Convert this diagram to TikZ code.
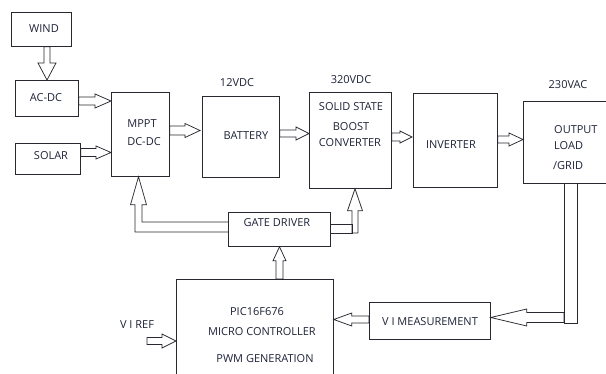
\documentclass[tikz,border=0pt]{standalone}
\usepackage{fontspec}
\setmainfont{Open Sans}
\usetikzlibrary{calc}
\definecolor{ink}{RGB}{40,40,48}
\definecolor{txtc}{RGB}{30,34,55}
\tikzset{
  box/.style={draw=ink, line width=0.75pt, anchor=north west, inner sep=0pt},
  ln/.style={draw=ink, line width=0.75pt, line join=miter},
  lbl/.style={text=txtc, font=\fontsize{11}{13}\selectfont, inner sep=0pt},
}
% block arrow: start, tip, shaft half width, head half width, head length
\newcommand\barrow[5]{%
  \path (#1) coordinate (ba-s) (#2) coordinate (ba-t);
  \path ($(ba-t)!#5pt!(ba-s)$) coordinate (ba-h);
  \draw[ln] ($(ba-s)!#3pt!90:(ba-t)$) -- ($(ba-h)!#3pt!90:(ba-t)$) -- ($(ba-h)!#4pt!90:(ba-t)$)
    -- (ba-t) -- ($(ba-h)!#4pt!-90:(ba-t)$) -- ($(ba-h)!#3pt!-90:(ba-t)$) -- ($(ba-s)!#3pt!-90:(ba-t)$) -- cycle;}
\begin{document}
\begin{tikzpicture}[x=1pt,y=-1pt]
\useasboundingbox (0,0) rectangle (606,374);
\clip (0,0) rectangle (606,374);
% boxes
\node[box, minimum width=60pt, minimum height=34pt] (wind) at (11,12) {};
\node[box, minimum width=63pt, minimum height=36pt] (acdc) at (15,80) {};
\node[box, minimum width=65pt, minimum height=31pt] (solar) at (15,143) {};
\node[box, minimum width=58pt, minimum height=84pt] (mppt) at (111,92) {};
\node[box, minimum width=77pt, minimum height=81pt] (batt) at (202,96) {};
\node[box, minimum width=82pt, minimum height=96pt] (ssbc) at (309,92) {};
\node[box, minimum width=84pt, minimum height=94pt] (inv) at (413,93) {};
\node[box, minimum width=90pt, minimum height=82pt] (out) at (523,101) {};
\node[box, minimum width=102pt, minimum height=34pt] (gd) at (228,212) {};
\node[box, minimum width=157pt, minimum height=110pt] (pic) at (176,279) {};
\node[box, minimum width=121pt, minimum height=37pt] (vim) at (369,302) {};
% texts
\node[lbl] (t-wind) at (44,29) {WIND};
\node[lbl] (t-acdc) at (46,98) {AC-DC};
\node[lbl] (t-solar) at (51,156) {SOLAR};
\node[lbl] (t-mppt1) at (142,124) {MPPT};
\node[lbl] (t-mppt2) at (144,142) {DC-DC};
\node[lbl] (t-batt) at (246,136) {BATTERY};
\node[lbl] (v12) at (237,83) {12VDC};
\node[lbl] (v320) at (351,80) {320VDC};
\node[lbl] (v230) at (568,85) {230VAC};
\node[lbl] (t-ss1) at (351,107) {SOLID STATE};
\node[lbl] (t-ss2) at (351,127) {BOOST};
\node[lbl] (t-ss3) at (350,143) {CONVERTER};
\node[lbl] (t-inv) at (451,145) {INVERTER};
\node[lbl, anchor=west] (t-out1) at (554,130) {OUTPUT};
\node[lbl, anchor=west] (t-out2) at (554,146) {LOAD};
\node[lbl, anchor=west] (t-out3) at (553,166) {/GRID};
\node[lbl] (t-gd) at (277,223) {GATE DRIVER};
\node[lbl] (t-pic1) at (257,312) {PIC16F676};
\node[lbl] (t-pic2) at (262,332) {MICRO CONTROLLER};
\node[lbl] (t-pic3) at (265,359) {PWM GENERATION};
\node[lbl] (t-vim) at (430,322) {V I MEASUREMENT};
\node[lbl] (t-vref) at (137,325) {V I REF};
% helper coordinates
\coordinate (xw) at (47,0);
\coordinate (y1) at (0,101);
\coordinate (y2) at (0,152.5);
\coordinate (y3) at (0,130.5);
\coordinate (y4) at (0,133.5);
\coordinate (y5) at (0,137);
\coordinate (y6) at (0,139.5);
\coordinate (xp) at (279.5,0);
\coordinate (y7) at (0,319.5);
\coordinate (y8) at (0,341);
\coordinate (vref) at (147,341);
% simple block arrows
\barrow{wind.south -| xw}{acdc.north -| xw}{3}{9}{17}
\barrow{acdc.east |- y1}{mppt.west |- y1}{4}{7}{16}
\barrow{solar.east |- y2}{mppt.west |- y2}{4}{6.5}{15}
\barrow{mppt.east |- y3}{$(batt.west |- y3)+(-2,0)$}{4.5}{7}{15}
\barrow{batt.east |- y4}{ssbc.west |- y4}{3.5}{6.5}{13}
\barrow{ssbc.east |- y5}{$(inv.west |- y5)+(-1,0)$}{4}{6}{12}
\barrow{inv.east |- y6}{out.west |- y6}{3.5}{6.5}{14}
\barrow{pic.north -| xp}{gd.south -| xp}{3.5}{6.5}{14}
\barrow{vim.west |- y7}{pic.east |- y7}{3.5}{6.5}{18}
\barrow{vref}{pic.west |- y8}{3.5}{7}{14}
% output -> V I measurement
\coordinate (sx1) at (564,0);
\coordinate (sx2) at (577,0);
\coordinate (sy) at (0,323);
\coordinate (y9) at (0,317.5);
\draw[ln] (out.south -| sx1) -- (sx1 |- sy) -- (sx2 |- sy) -- (out.south -| sx2);
\barrow{sx1 |- y9}{vim.east |- y9}{5}{8.5}{36}
% gate driver -> MPPT
\coordinate (xm) at (138.5,0);
\coordinate (gm) at (mppt.south -| xm);
\coordinate (ya) at (0,222);
\coordinate (yb) at (0,232);
\draw[ln] (gd.west |- ya) -- ($(gm |- ya)+(3.5,0)$) -- ($(gm)+(3.5,28)$) -- ($(gm)+(8,28)$) -- (gm)
  -- ($(gm)+(-8,28)$) -- ($(gm)+(-3.5,28)$) -- ($(gm |- yb)+(-3.5,0)$) -- (gd.west |- yb);
% gate driver -> boost converter
\coordinate (yc) at (0,224);
\coordinate (yd) at (0,233);
\coordinate (xr) at (352,0);
\coordinate (xs) at (355,0);
\draw[ln] (gd.east |- yc) -- (xr |- yc) -- (xr |- yd) -- (gd.east |- yd);
\barrow{xs |- yd}{ssbc.south -| xs}{3}{7.5}{22}
\end{tikzpicture}
\end{document}
